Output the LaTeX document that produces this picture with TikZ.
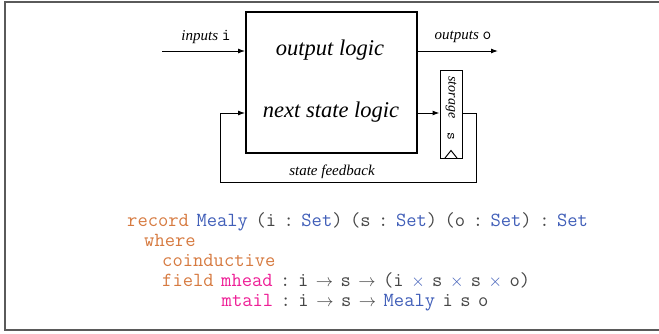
\documentclass[tikz,border=0pt]{standalone}
\usepackage{fontspec}
\setmainfont{Liberation Serif}
\usetikzlibrary{arrows.meta}
\definecolor{akw}{RGB}{214,122,64}
\definecolor{arec}{RGB}{64,94,184}
\definecolor{afld}{RGB}{238,30,150}
\definecolor{asym}{RGB}{70,70,70}
\definecolor{frame}{RGB}{90,90,90}
\newcommand\kwd[1]{\textcolor{akw}{#1}}
\newcommand\recd[1]{\textcolor{arec}{#1}}
\newcommand\fldd[1]{\textcolor{afld}{#1}}
\newcommand\gp{\hspace{7.5pt}}
\newcommand\agto{{\fontsize{17}{17}\selectfont$\rightarrow$}}
\newcommand\agx{\textcolor{arec}{\fontsize{17}{17}\selectfont$\times$}}
\tikzset{
  arr/.style={-{Latex[length=7pt,width=5pt]}, line width=1pt},
  big/.style={font=\fontsize{22.5}{26}\selectfont\itshape, inner sep=0pt},
  lbl/.style={font=\fontsize{15}{18}\selectfont\itshape, inner sep=0pt},
  code/.style={anchor=base west, inner sep=0pt, text=asym, font=\fontsize{20}{22}\selectfont\ttfamily},
}
\begin{document}
\begin{tikzpicture}[x=1pt,y=-1pt]
\useasboundingbox (0,0) rectangle (659,333);
\draw[frame, line width=1.5pt] (659,2) -- (5,2) -- (5,330) -- (659,330);

% main block
\node (box) [draw, line width=1.8pt, minimum width=171pt, minimum height=141pt, inner sep=0pt] at (331.5,82.75) {};
\node (ol) [big] at (330,50) {output logic};
\node (nsl) [big] at (331,112) {next state logic};

% storage
\node (st) [draw, line width=1pt, minimum width=22pt, minimum height=88pt, inner sep=0pt] at (451,114.5) {};
\node (stl) [inner sep=0pt, rotate=-90, font=\fontsize{14}{15}\selectfont\itshape] at (451,97.5) {storage};
\node (sts) [inner sep=0pt, rotate=-90, font=\fontsize{15}{15}\selectfont\ttfamily] at (451,136.5) {s};
\draw[line width=1pt] (445,158) -- (451,150.5) -- (457,158);

% inputs / outputs
\coordinate (in) at (162,51);
\coordinate (out) at (498,51);
\draw[arr] (in) -- (in -| box.west);
\draw[arr] (out -| box.east) -- (out);
\node (inl) [lbl] at (206,37) {inputs {\upshape\ttfamily\fontsize{17}{18}\selectfont i}};
\node (outl) [lbl] at (463,37) {outputs {\upshape\ttfamily\fontsize{17}{18}\selectfont o}};

% feedback
\coordinate (fb) at (476,113);
\coordinate (fbr) at (476,182);
\coordinate (fbl) at (220,182);
\draw[arr] (box.east |- fb) -- (st.west |- fb);
\draw[arr] (st.east |- fb) -- (fb) -- (fbr) -- (fbl) -- (fbl |- fb) -- (box.west |- fb);
\node (sfl) [lbl] at (332,172) {state feedback};

% code
\node (c1) [code] at (127,226) {\kwd{record}\gp\recd{Mealy}\gp(i\gp:\gp\recd{Set})\gp(s\gp:\gp\recd{Set})\gp(o\gp:\gp\recd{Set})\gp:\gp\recd{Set}};
\node (c2) [code] at (144,246) {\kwd{where}};
\node (c3) [code] at (162,266) {\kwd{coinductive}};
\node (c4) [code] at (162,286) {\kwd{field}\gp\fldd{mhead}\gp:\gp i\gp\agto\gp s\gp\agto\gp(i\gp\agx\gp s\gp\agx\gp s\gp\agx\gp o)};
\node (c5) [code] at (221.5,306) {\fldd{mtail}\gp:\gp i\gp\agto\gp s\gp\agto\gp\recd{Mealy}\gp i\gp s\gp o};
\end{tikzpicture}
\end{document}
